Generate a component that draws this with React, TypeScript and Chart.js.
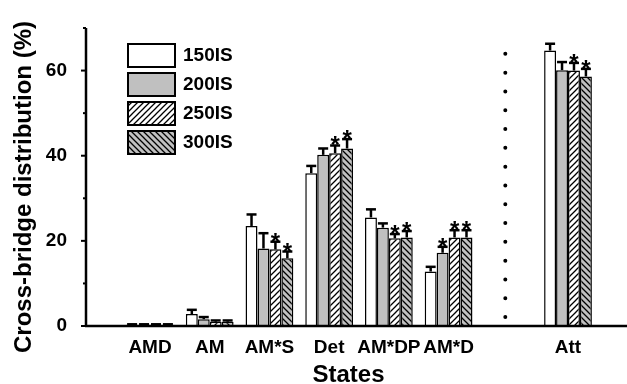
import React, { useEffect, useRef } from "react";
import { Chart, registerables } from "chart.js";

Chart.register(...registerables);

// ---- data ----
const categories = ["AMD", "AM", "AM*S", "Det", "AM*DP", "AM*D", "", "Att"];
const seriesNames = ["150IS", "200IS", "250IS", "300IS"];
const s150 = [0.3, 2.8, 23.5, 35.9, 25.5, 12.8, null, 64.7];
const s200 = [0.3, 1.6, 18.2, 40.2, 23.1, 17.2, null, 60.1];
const s250 = [0.3, 1.0, 18.0, 40.6, 20.6, 20.8, null, 60.0];
const s300 = [0.3, 1.0, 15.9, 41.7, 20.8, 20.8, null, 58.6];
const e150 = [0.1, 1.0, 2.7, 1.7, 1.9, 1.1, null, 1.6];
const e200 = [0.1, 0.5, 3.6, 1.5, 1.0, 1.4, null, 1.9];
const e250 = [0.1, 0.3, 1.8, 1.8, 1.0, 1.7, null, 1.8];
const e300 = [0.1, 0.3, 1.6, 2.2, 1.5, 1.7, null, 1.8];
const sig150 = [0, 0, 0, 0, 0, 0, 0, 0];
const sig200 = [0, 0, 0, 0, 0, 1, 0, 0];
const sig250 = [0, 0, 1, 1, 1, 1, 0, 1];
const sig300 = [0, 0, 1, 1, 1, 1, 0, 1];
const yTickLabels = [0, 20, 40, 60];
const yMax = 70;
const separatorSlot = 5.95;

const seriesVals = [s150, s200, s250, s300];
const seriesErr = [e150, e200, e250, e300];
const seriesSig = [sig150, sig200, sig250, sig300];

const FONT = '"Liberation Sans", Arial, sans-serif';
const GRAY = "#c0c0c0";

function makeHatch(bg: string, dir: number): CanvasPattern {
  const s = 6;
  const c = document.createElement("canvas");
  c.width = s;
  c.height = s;
  const g = c.getContext("2d")!;
  g.fillStyle = bg;
  g.fillRect(0, 0, s, s);
  g.strokeStyle = "#000";
  g.lineWidth = 1.3;
  g.beginPath();
  if (dir === 1) {
    g.moveTo(-1, s + 1);
    g.lineTo(s + 1, -1);
    g.moveTo(-1, 1);
    g.lineTo(1, -1);
    g.moveTo(s - 1, s + 1);
    g.lineTo(s + 1, s - 1);
  } else {
    g.moveTo(-1, -1);
    g.lineTo(s + 1, s + 1);
    g.moveTo(s - 1, -1);
    g.lineTo(s + 1, 1);
    g.moveTo(-1, s - 1);
    g.lineTo(1, s + 1);
  }
  g.stroke();
  return g.createPattern(c, "repeat")!;
}

export default function App() {
  const ref = useRef<HTMLCanvasElement | null>(null);

  useEffect(() => {
    document.body.style.margin = "0";
    const canvas = ref.current!;
    const fills: (string | CanvasPattern)[] = [
      "#ffffff",
      GRAY,
      makeHatch("#ffffff", 1),
      makeHatch(GRAY, -1),
    ];

    const deco = {
      id: "deco",
      afterDatasetsDraw(chart: any) {
        const ctx = chart.ctx as CanvasRenderingContext2D;
        const xs = chart.scales.x;
        const ys = chart.scales.y;
        const area = chart.chartArea;
        const y0 = ys.getPixelForValue(0);

        // error bars + stars
        chart.data.datasets.forEach((ds: any, k: number) => {
          const meta = chart.getDatasetMeta(k);
          meta.data.forEach((bar: any, j: number) => {
            const idx = ds.data[j].x;
            const v = seriesVals[k][idx] as number;
            const e = seriesErr[k][idx] as number;
            const by = ys.getPixelForValue(v);
            const top = ys.getPixelForValue(v + e);
            ctx.save();
            ctx.strokeStyle = "#000";
            ctx.lineWidth = 2.5;
            ctx.beginPath();
            ctx.moveTo(bar.x, by);
            ctx.lineTo(bar.x, top);
            ctx.stroke();
            ctx.beginPath();
            ctx.moveTo(bar.x - 5, top);
            ctx.lineTo(bar.x + 5, top);
            ctx.stroke();
            if (seriesSig[k][idx]) {
              ctx.fillStyle = "#000";
              ctx.font = `bold 24px ${FONT}`;
              ctx.textAlign = "center";
              ctx.textBaseline = "alphabetic";
              ctx.fillText("*", bar.x, top + 8);
            }
            ctx.restore();
          });
        });

        ctx.save();
        // axes
        ctx.strokeStyle = "#000";
        ctx.lineWidth = 2.5;
        ctx.beginPath();
        ctx.moveTo(area.left - 1, y0);
        ctx.lineTo(chart.width, y0);
        ctx.stroke();
        ctx.beginPath();
        ctx.moveTo(area.left, y0);
        ctx.lineTo(area.left, ys.getPixelForValue(yMax));
        ctx.stroke();
        // tick marks
        ctx.lineWidth = 2;
        for (let v = 0; v <= yMax; v += 10) {
          const py = ys.getPixelForValue(v);
          const len = v % 20 === 0 ? 5 : 3;
          ctx.beginPath();
          ctx.moveTo(area.left - len, py);
          ctx.lineTo(area.left, py);
          ctx.stroke();
        }
        // dotted separator
        const sx = xs.getPixelForValue(separatorSlot);
        ctx.lineWidth = 4;
        ctx.lineCap = "round";
        ctx.setLineDash([0, 18.8]);
        ctx.beginPath();
        ctx.moveTo(sx, ys.getPixelForValue(2.1));
        ctx.lineTo(sx, ys.getPixelForValue(64.5));
        ctx.stroke();
        ctx.setLineDash([]);
        ctx.lineCap = "butt";

        // legend
        const lx = area.left + 41;
        const ly = area.top + 15;
        seriesNames.forEach((name, k) => {
          const by = ly + k * 29;
          ctx.fillStyle = fills[k] as any;
          ctx.fillRect(lx, by, 49, 25);
          ctx.strokeStyle = "#000";
          ctx.lineWidth = 2;
          ctx.strokeRect(lx + 1, by + 1, 47, 23);
          ctx.fillStyle = "#000";
          ctx.font = `bold 19px ${FONT}`;
          ctx.textAlign = "left";
          ctx.textBaseline = "middle";
          ctx.fillText(name, lx + 56, by + 13);
        });

        // axis titles
        ctx.fillStyle = "#000";
        ctx.font = `bold 24px ${FONT}`;
        ctx.textAlign = "center";
        ctx.textBaseline = "alphabetic";
        ctx.fillText("States", 348.5, 382);
        ctx.translate(24, 187);
        ctx.rotate(-Math.PI / 2);
        ctx.textBaseline = "middle";
        ctx.fillText("Cross-bridge distribution (%)", 0, 0);
        ctx.restore();
      },
    };

    const chart = new Chart(canvas, {
      type: "bar",
      data: {
        datasets: seriesVals.map((vals, k) => ({
          label: seriesNames[k],
          data: vals
            .map((v, i) => (v == null ? null : { x: i, y: v }))
            .filter((d) => d !== null) as any,
          backgroundColor: fills[k] as any,
          borderColor: "#000",
          borderWidth: 1.5,
          categoryPercentage: 0.8,
          barPercentage: 1,
        })),
      },
      options: {
        animation: false,
        responsive: false,
        devicePixelRatio: 1,
        layout: { padding: { top: 28, left: 0, right: 0, bottom: 0 } },
        plugins: {
          legend: { display: false },
          tooltip: { enabled: false },
        },
        scales: {
          x: {
            type: "linear",
            min: -1.072,
            max: 7.988,
            offset: false,
            bounds: "data",
            afterFit: (s: any) => {
              s.height = 58;
            },
            afterBuildTicks: (s: any) => {
              s.ticks = categories.map((_, i) => ({ value: i }));
            },
            grid: { display: false, offset: false },
            border: { display: false },
            ticks: {
              autoSkip: false,
              maxRotation: 0,
              padding: 2,
              color: "#000",
              font: { family: FONT, weight: "bold", size: 19 },
              callback: (v: any) => categories[v] ?? "",
            },
          },
          y: {
            min: 0,
            max: yMax,
            afterFit: (s: any) => {
              s.width = 86;
            },
            grid: { display: false },
            border: { display: false },
            ticks: {
              stepSize: 20,
              padding: 11,
              color: "#000",
              font: { family: FONT, weight: "bold", size: 19 },
              callback: (v: any) => (yTickLabels.includes(v) ? String(v) : ""),
            },
          },
        },
      } as any,
      plugins: [deco],
    });
    return () => chart.destroy();
  }, []);

  return (
    <canvas
      ref={ref}
      width={627}
      height={384}
      style={{ display: "block", width: 627, height: 384 }}
    />
  );
}
